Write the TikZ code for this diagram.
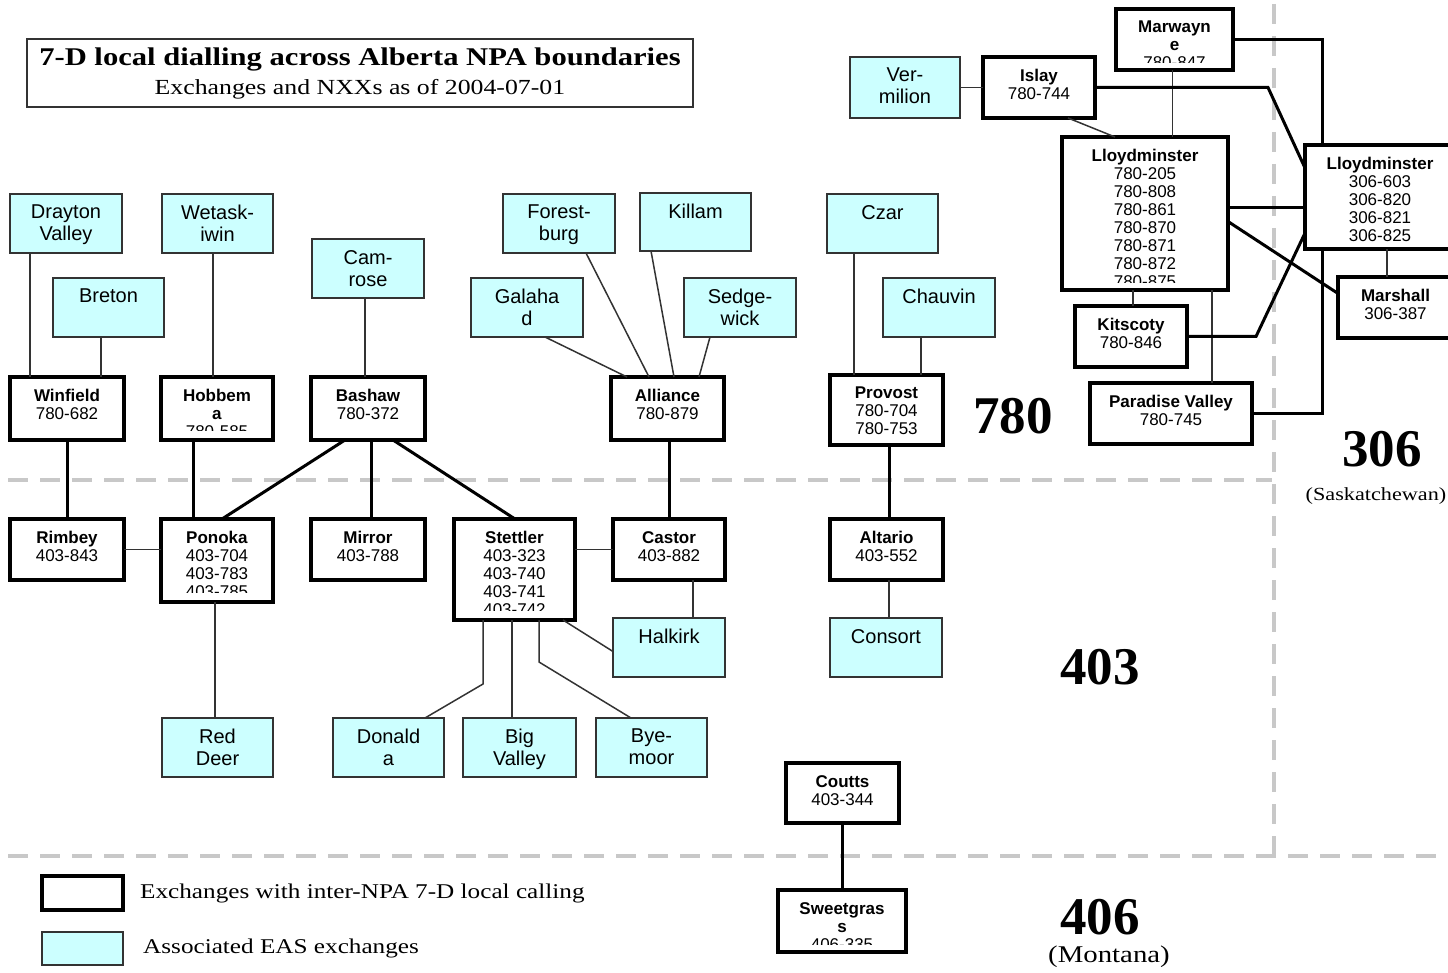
\documentclass[tikz,border=0pt]{standalone}
\usepackage{fontspec}
\setmainfont{Liberation Serif}[FakeStretch=1.2]
\newfontfamily\numfont{Liberation Serif}
\newfontfamily\arial{Liberation Sans}
\definecolor{eascyan}{RGB}{204,255,255}
\definecolor{npagray}{RGB}{200,200,200}
\definecolor{linkgray}{RGB}{51,51,51}
\tikzset{
    exch/.style={draw=black, line width=4pt, fill=white, inner sep=0pt, outer sep=0pt, anchor=north west},
    eas/.style={draw=linkgray, line width=1.3pt, fill=eascyan, inner sep=0pt, outer sep=0pt, anchor=north west},
    extext/.style={anchor=north, align=center, inner sep=0pt, font=\arial\fontsize{17}{18}\selectfont},
    eastext/.style={anchor=north, align=center, inner sep=0pt, font=\arial\fontsize{20}{22}\selectfont},
    easline/.style={draw=linkgray, line width=1.5pt},
    midline/.style={draw=black, line width=2.2pt},
    exline/.style={draw=black, line width=3pt},
    npaline/.style={draw=npagray, line width=4pt, dash pattern=on 20pt off 12pt},
    npa/.style={font=\numfont\bfseries\fontsize{53}{53}\selectfont, inner sep=0pt},
    region/.style={font=\fontsize{18.5}{18.5}\selectfont, inner sep=0pt},
    legtext/.style={font=\fontsize{21}{21}\selectfont, inner sep=0pt, anchor=west}
}
\newcommand\exbox[7][6]{%
    \node[exch, minimum width=#5pt, minimum height=#6pt] (#2) at (#3,#4) {};
    \begin{scope}
        \clip ([shift={(2pt,#1pt)}]#2.south west) rectangle ([shift={(-2pt,-2pt)}]#2.north east);
        \node[extext] at ([yshift=-12pt]#2.north) {#7};
    \end{scope}}
\newcommand\easbox[6]{%
    \node[eas, minimum width=#4pt, minimum height=#5pt] (#1) at (#2,#3) {};
    \node[eastext] at ([yshift=-11pt]#1.north) {#6};}
\begin{document}
\begin{tikzpicture}[x=1pt, y=-1pt]
    \useasboundingbox (0,0) rectangle (1448,973);
    \draw[npaline] (8,480) -- (1272,480);
    \draw[npaline] (1274,4) -- (1274,858);
    \draw[npaline] (8,856) -- (1448,856);

    \node[draw=linkgray, line width=1.2pt, minimum width=666pt, minimum height=68pt, align=center, inner sep=0pt,
          font=\fontsize{21.5}{29}\selectfont] (title) at (360,73)
        {{\bfseries\fontsize{25.5}{29}\selectfont 7-D local dialling across Alberta NPA boundaries}\\Exchanges and NXXs as of 2004-07-01};

    \easbox{dv}{10}{194}{112}{59}{Drayton\\Valley}
    \easbox{bre}{53}{278}{111}{59}{Breton}
    \easbox{wet}{162}{194}{111}{59}{Wetask-\\iwin}
    \easbox{cam}{312}{239}{112}{59}{Cam-\\rose}
    \easbox{frb}{503}{194}{112}{59}{Forest-\\burg}
    \easbox{kil}{640}{193}{111}{58}{Killam}
    \easbox{gal}{471}{278}{112}{59}{Galaha\\d}
    \easbox{sed}{684}{278}{112}{59}{Sedge-\\wick}
    \easbox{czr}{827}{194}{111}{59}{Czar}
    \easbox{chv}{883}{278}{112}{59}{Chauvin}
    \easbox{ver}{850}{57}{110}{61}{Ver-\\milion}
    \easbox{hal}{613}{618}{112}{59}{Halkirk}
    \easbox{con}{830}{618}{112}{59}{Consort}
    \easbox{rd}{162}{718}{111}{59}{Red\\Deer}
    \easbox{don}{333}{718}{111}{59}{Donald\\a}
    \easbox{bv}{463}{718}{113}{59}{Big\\Valley}
    \easbox{bye}{596}{718}{111}{59}{Bye-\\moor}

    \exbox{win}{10}{377}{114}{63}{\textbf{Winfield}\\780-682}
    \exbox[10]{hob}{161}{377}{112}{63}{\textbf{Hobbem}\\\textbf{a}\\780-585}
    \exbox{bas}{311}{377}{114}{63}{\textbf{Bashaw}\\780-372}
    \exbox{all}{611}{377}{113}{63}{\textbf{Alliance}\\780-879}
    \exbox{prov}{830}{375}{113}{70}{\fontsize{15}{17}\selectfont{\bfseries\fontsize{17}{17}\selectfont Provost}\\780-704\\780-753}
    \exbox{rim}{10}{519}{114}{61}{\textbf{Rimbey}\\403-843}
    \exbox[10]{pon}{161}{519}{112}{83}{\textbf{Ponoka}\\403-704\\403-783\\403-785}
    \exbox{mir}{311}{519}{114}{61}{\textbf{Mirror}\\403-788}
    \exbox[10]{ste}{454}{519}{121}{101}{\textbf{Stettler}\\403-323\\403-740\\403-741\\403-742}
    \exbox{cas}{613}{519}{112}{61}{\textbf{Castor}\\403-882}
    \exbox{alt}{830}{519}{113}{61}{\textbf{Altario}\\403-552}
    \exbox{cou}{786}{763}{113}{60}{\textbf{Coutts}\\403-344}
    \exbox[8]{swe}{778}{890}{128}{62}{\textbf{Sweetgras}\\\textbf{s}\\406-335}
    \exbox{isl}{983}{57}{112}{61}{\textbf{Islay}\\780-744}
    \exbox[7]{mar}{1116}{9}{117}{61}{\textbf{Marwayn}\\\textbf{e}\\780-847}
    \exbox[7]{lab}{1062}{137}{166}{153}{\textbf{Lloydminster}\\780-205\\780-808\\780-861\\780-870\\780-871\\780-872\\780-875}
    \exbox{lsk}{1305}{145}{150}{104}{\textbf{Lloydminster}\\306-603\\306-820\\306-821\\306-825}
    \exbox{msh}{1338}{277}{115}{61}{\textbf{Marshall}\\306-387}
    \exbox{kit}{1075}{306}{112}{61}{\textbf{Kitscoty}\\780-846}
    \exbox{par}{1090}{383}{162}{61}{\textbf{Paradise Valley}\\780-745}

    \draw[easline] ([xshift=20pt]dv.south west) -- ([xshift=20pt]dv.south west |- win.north);
    \draw[easline] ([xshift=48pt]bre.south west) -- ([xshift=48pt]bre.south west |- win.north);
    \draw[easline] ([xshift=51pt]wet.south west) -- ([xshift=51pt]wet.south west |- hob.north);
    \draw[easline] ([xshift=53pt]cam.south west) -- ([xshift=53pt]cam.south west |- bas.north);
    \draw[easline] ([xshift=74pt]gal.south west) -- ([xshift=16pt]all.north west);
    \draw[easline] ([xshift=83pt]frb.south west) -- ([xshift=38pt]all.north west);
    \draw[easline] ([xshift=11pt]kil.south west) -- ([xshift=63pt]all.north west);
    \draw[easline] ([xshift=26pt]sed.south west) -- ([xshift=88pt]all.north west);
    \draw[easline] ([xshift=27pt]czr.south west) -- ([xshift=27pt]czr.south west |- prov.north);
    \draw[easline] ([xshift=38pt]chv.south west) -- ([xshift=38pt]chv.south west |- prov.north);
    \draw[easline] (rim.east) -- (pon.west |- rim.east);
    \draw[easline] (ste.east |- cas.west) -- (cas.west);
    \draw[easline] ([xshift=54pt]pon.south west) -- ([xshift=54pt]pon.south west |- rd.north);
    \draw[easline] ([xshift=29pt]ste.south west) -- ++(0,64) -- ([xshift=92pt]don.north west);
    \draw[easline] ([xshift=58pt]ste.south west) -- ([xshift=58pt]ste.south west |- bv.north);
    \draw[easline] ([xshift=85pt]ste.south west) -- ++(0,42) -- ([xshift=35pt]bye.north west);
    \draw[easline] ([xshift=-12pt]ste.south east) -- ([yshift=-4pt]hal.west);
    \draw[easline] ([xshift=80pt]cas.south west) -- ([xshift=80pt]cas.south west |- hal.north);
    \draw[easline] ([xshift=59pt]alt.south west) -- ([xshift=59pt]alt.south west |- con.north);
    \draw[easline] (ver.east) -- (isl.west);
    \draw[easline] ([xshift=85pt]isl.south west) -- ([xshift=53pt]lab.north west);
    \draw[easline] ([xshift=-2pt]mar.south) -- ([xshift=-2pt]mar.south |- lab.north);
    \draw[easline] ([xshift=71pt]lab.south west) -- ([xshift=71pt]lab.south west |- kit.north);
    \draw[easline] ([xshift=150pt]lab.south west) -- ([xshift=150pt]lab.south west |- par.north);
    \draw[easline] ([xshift=82pt]lsk.south west) -- ([xshift=82pt]lsk.south west |- msh.north);
    \draw[midline] ([yshift=6pt]lab.east) -- ([yshift=6pt]lab.east -| lsk.west);

    \draw[exline] (win.south) -- (win.south |- rim.north);
    \draw[exline] ([xshift=32pt]hob.south west) -- ([xshift=32pt]hob.south west |- pon.north);
    \draw[exline] ([xshift=34pt]bas.south west) -- ([xshift=61pt]pon.north west);
    \draw[exline] ([xshift=60pt]bas.south west) -- ([xshift=60pt]bas.south west |- mir.north);
    \draw[exline] ([xshift=82pt]bas.south west) -- ([xshift=61pt]ste.north west);
    \draw[exline] ([xshift=58pt]all.south west) -- ([xshift=58pt]all.south west |- cas.north);
    \draw[exline] ([xshift=59pt]prov.south west) -- ([xshift=59pt]prov.south west |- alt.north);
    \draw[exline] (cou.south) -- (cou.south |- swe.north);
    \draw[exline] (isl.east) -- ++(173,0) -- ([yshift=29pt]lsk.west);
    \draw[exline] (mar.east) -| ([xshift=17pt]lsk.north west);
    \draw[exline] ([yshift=-8pt]lab.east) -- ([yshift=14pt]msh.west);
    \draw[exline] (kit.east) -- ++(69,0) -- ([yshift=-36pt]lsk.west);
    \draw[exline] (par.east) -| ([xshift=17pt]lsk.south west);

    \node[npa] (n780) at (1013,416) {780};
    \node[npa] (n306) at (1382,449) {306};
    \node[region] (sask) at (1376,496) {(Saskatchewan)};
    \node[npa] (n403) at (1100,667) {403};
    \node[npa] (n406) at (1100,917) {406};
    \node[region, font=\fontsize{24}{24}\selectfont] (mont) at (1109,957) {(Montana)};

    \node[exch, minimum width=81pt, minimum height=34pt] (legex) at (42,876) {};
    \node[eas, minimum width=81pt, minimum height=33pt] (legeas) at (42,932) {};
    \node[legtext] (legexT) at ([xshift=17pt]legex.east) {Exchanges with inter-NPA 7-D local calling};
    \node[legtext] (legeasT) at ([xshift=20pt]legeas.east) {Associated EAS exchanges};
\end{tikzpicture}
\end{document}
